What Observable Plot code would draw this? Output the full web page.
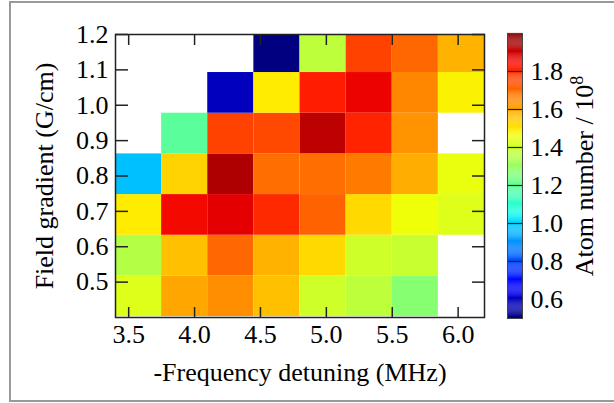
<!DOCTYPE html>
<html>
<head>
<meta charset="utf-8">
<script src="https://cdn.jsdelivr.net/npm/d3@7"></script>
<script src="https://cdn.jsdelivr.net/npm/@observablehq/plot@0.6"></script>
<style>
  html, body { margin: 0; padding: 0; background: white; overflow: hidden; }
  #wrap { position: relative; width: 614px; height: 403px; overflow: hidden; }
  #wrap svg { position: absolute; left: 0; top: 0; }
  #wrap svg, #wrap svg text, #wrap svg tspan, #wrap svg g { font-family: "Liberation Serif", "Times New Roman", serif !important; }
  #border { position: absolute; left: 9px; top: 1px; width: 700px; height: 401px; border: 2px solid #999; border-right: 0; box-sizing: border-box; }
</style>
</head>
<body>
<div id="wrap"><div id="border"></div></div>
<script>
// Detuning (MHz, cell centres) and field gradient (G/cm, cell centres)
const detuning = [3.575, 3.925, 4.275, 4.625, 4.975, 5.325, 5.675, 6.025];
const gradient = [0.46, 0.575, 0.69, 0.805, 0.92, 1.035, 1.15];
const detStep = 0.35;
const gradStep = 0.115;

// Atom number / 1e8, one row per gradient (bottom to top); null = no data
const row046  = [1.43, 1.60, 1.64, 1.56, 1.40, 1.37, 1.27, null];
const row0575 = [1.35, 1.56, 1.70, 1.58, 1.52, 1.40, 1.39, null];
const row069  = [1.49, 1.85, 1.87, 1.80, 1.71, 1.52, 1.46, 1.43];
const row0805 = [0.97, 1.53, 1.94, 1.69, 1.69, 1.67, 1.59, 1.45];
const row092  = [null, 1.19, 1.76, 1.75, 1.92, 1.81, 1.63, null];
const row1035 = [null, null, 0.58, 1.49, 1.82, 1.86, 1.65, 1.48];
const row115  = [null, null, null, 0.50, 1.37, 1.76, 1.70, 1.58];
const rows = [row046, row0575, row069, row0805, row092, row1035, row115];

const xTicks = [3.5, 4.0, 4.5, 5.0, 5.5, 6.0];
const yTicks = [0.5, 0.6, 0.7, 0.8, 0.9, 1.0, 1.1, 1.2];
const cbTicks = [0.6, 0.8, 1.0, 1.2, 1.4, 1.6, 1.8];
const cbDomain = [0.5, 2.0];

// jet colour map
function pw(pts, t) {
  for (let i = 1; i < pts.length; i++) {
    if (t <= pts[i][0]) {
      const [x0, y0] = pts[i - 1], [x1, y1] = pts[i];
      return y0 + (y1 - y0) * (t - x0) / (x1 - x0);
    }
  }
  return pts[pts.length - 1][1];
}
function jet(t) {
  t = Math.max(0, Math.min(1, t));
  const r = pw([[0,0],[0.35,0],[0.66,1],[0.89,1],[1,0.5]], t);
  const g = pw([[0,0],[0.125,0],[0.375,1],[0.64,1],[0.91,0],[1,0]], t);
  const b = pw([[0,0.5],[0.11,1],[0.34,1],[0.65,0],[1,0]], t);
  return `rgb(${Math.round(r*255)},${Math.round(g*255)},${Math.round(b*255)})`;
}

const cells = [];
rows.forEach((row, j) => row.forEach((v, i) => {
  if (v != null) cells.push({x: detuning[i], y: gradient[j], v});
}));

const font = {fontFamily: "Liberation Serif, serif", fontSize: "26px", background: "transparent", color: "black", overflow: "visible"};
const colorScale = {type: "linear", domain: cbDomain, interpolate: jet};

const main = Plot.plot({
  width: 614, height: 403,
  marginLeft: 115, marginRight: 130, marginTop: 34, marginBottom: 86,
  x: {domain: [3.4, 6.2]},
  y: {domain: [0.4, 1.2]},
  color: colorScale,
  style: font,
  marks: [
    Plot.rect(cells, {x1: d => d.x - detStep / 2, x2: d => d.x + detStep / 2,
                      y1: d => d.y - gradStep / 2, y2: d => d.y + gradStep / 2,
                      fill: "v", clip: true}),
    Plot.frame({stroke: "#222", strokeWidth: 1.5}),
    Plot.axisX(xTicks, {anchor: "bottom", tickSize: -10, fill: "none", label: null, stroke: "#222", strokeWidth: 1.5}),
    Plot.axisX(xTicks, {anchor: "top", tickSize: -10, fill: "none", label: null, stroke: "#222", strokeWidth: 1.5}),
    Plot.axisY(yTicks, {anchor: "left", tickSize: -13, fill: "none", label: null, stroke: "#222", strokeWidth: 1.5}),
    Plot.axisY(yTicks, {anchor: "right", tickSize: -13, fill: "none", label: null, stroke: "#222", strokeWidth: 1.5}),
    Plot.axisX(xTicks, {anchor: "bottom", tickSize: 0, tickPadding: 7, tickFormat: d3.format(".1f"),
      label: "-Frequency detuning (MHz)", labelAnchor: "center", labelArrow: false, labelOffset: 63}),
    Plot.axisY(yTicks, {anchor: "left", tickSize: 0, tickPadding: 7, tickFormat: d3.format(".1f"),
      label: "Field gradient (G/cm)", labelAnchor: "center", labelArrow: false, labelOffset: 81})
  ]
});

const cbSteps = d3.range(cbDomain[0], cbDomain[1], 0.005);
const bar = Plot.plot({
  width: 614, height: 403,
  marginLeft: 507, marginRight: 92, marginTop: 33, marginBottom: 85,
  y: {domain: cbDomain},
  color: colorScale,
  style: font,
  marks: [
    Plot.rect(cbSteps, {y1: d => d, y2: d => d + 0.0055, fill: d => d + 0.0025}),
    Plot.ruleY(cbTicks, {stroke: "#222", strokeWidth: 1.2}),
    Plot.frame({stroke: "#444"}),
    Plot.axisY(cbTicks, {anchor: "right", tickSize: 0, tickPadding: 8, tickFormat: d3.format(".1f"),
      label: "Atom number / 10\u2078", labelAnchor: "center", labelArrow: false, labelOffset: 70})
  ]
});

const wrap = document.getElementById("wrap");
wrap.appendChild(main);
wrap.appendChild(bar);

// superscript for 10^8
bar.querySelectorAll("text").forEach(t => {
  if (t.textContent.includes("\u2078")) {
    const target = t.querySelector("tspan") || t;
    target.textContent = "Atom number / 10";
    const sup = document.createElementNS("http://www.w3.org/2000/svg", "tspan");
    sup.setAttribute("dy", "-0.55em");
    sup.setAttribute("font-size", "18px");
    sup.textContent = "8";
    target.appendChild(sup);
  }
});
</script>
</body>
</html>
